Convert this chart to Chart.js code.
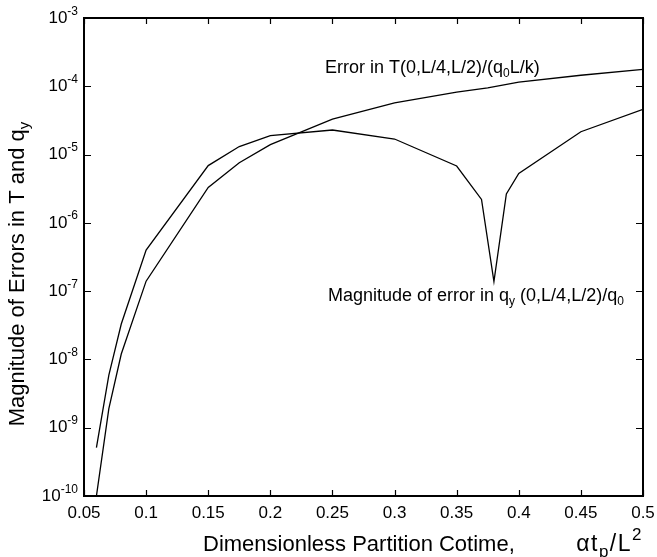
<!DOCTYPE html>
<html>
<head>
<meta charset="utf-8">
<script src="https://cdn.jsdelivr.net/npm/chart.js@4/dist/chart.umd.min.js"></script>
<style>
  html, body { margin: 0; padding: 0; background: #fff; }
  #wrap { position: relative; width: 657px; height: 557px; }
</style>
</head>
<body>
<div id="wrap"><canvas id="c"></canvas></div>
<script>
// valores
const X_TICKS = [0.05, 0.1, 0.15, 0.2, 0.25, 0.3, 0.35, 0.4, 0.45, 0.5];
const X_TICK_LABELS = ['0.05', '0.1', '0.15', '0.2', '0.25', '0.3', '0.35', '0.4', '0.45', '0.5'];
const Y_EXPONENTS = [-10, -9, -8, -7, -6, -5, -4, -3];

const tX = [0.06, 0.07, 0.08, 0.1, 0.15, 0.175, 0.2, 0.25, 0.3, 0.35, 0.375, 0.4, 0.45, 0.5];
const tErr = [1e-10, 1.9e-9, 1.2e-8, 1.4e-7, 3.3e-6, 7.6e-6, 1.4e-5, 3.3e-5, 5.7e-5, 8.2e-5, 9.5e-5, 1.15e-4, 1.45e-4, 1.77e-4];

const qX = [0.06, 0.07, 0.08, 0.1, 0.15, 0.175, 0.2, 0.25, 0.3, 0.35, 0.37, 0.38, 0.39, 0.4, 0.45, 0.5];
const qErr = [5.1e-10, 5.9e-9, 3.3e-8, 4.0e-7, 6.9e-6, 1.31e-5, 1.89e-5, 2.29e-5, 1.69e-5, 6.8e-6, 2.2e-6, 1.38e-7, 2.65e-6, 5.3e-6, 2.16e-5, 4.6e-5];

const FONT = '"Liberation Sans", Arial, Helvetica, sans-serif';
const TICK_SIZE = 17;
const TITLE_SIZE = 22;
const NOTE_SIZE = 18;

// texto con sub/superíndices: [[texto, 'sub'|'sup'|null], ...]
function richWidth(ctx, segs, size, ratio, gap) {
  let w = 0;
  segs.forEach(([t, k]) => {
    ctx.font = `${k ? Math.round(size * ratio) : size}px ${FONT}`;
    w += ctx.measureText(t).width + gap * t.length;
  });
  return w;
}

function drawRich(ctx, segs, x, y, size, align, ratio = 0.68, gap = 0) {
  const w = richWidth(ctx, segs, size, ratio, gap);
  let cx = align === 'right' ? x - w : align === 'center' ? x - w / 2 : x;
  ctx.textBaseline = 'middle';
  ctx.textAlign = 'left';
  segs.forEach(([t, k]) => {
    const s = k ? Math.round(size * ratio) : size;
    ctx.font = `${s}px ${FONT}`;
    let dy = 0;
    if (k === 'sub') dy = size * 0.32;
    if (k === 'sup') dy = -size * 0.4;
    for (const ch of t) {
      ctx.fillText(ch, cx, y + dy);
      cx += ctx.measureText(ch).width + gap;
    }
  });
}

const frameAndLabels = {
  id: 'frameAndLabels',
  afterDraw(chart) {
    const { ctx, chartArea: a, scales } = chart;
    const xs = scales.x, ys = scales.y;
    ctx.save();
    ctx.fillStyle = '#000';
    ctx.strokeStyle = '#000';

    // ticks hacia dentro, en los cuatro lados
    ctx.lineWidth = 1.2;
    ctx.beginPath();
    X_TICKS.forEach(v => {
      const px = Math.round(xs.getPixelForValue(v)) + 0.5;
      ctx.moveTo(px, a.bottom); ctx.lineTo(px, a.bottom - 6);
      ctx.moveTo(px, a.top); ctx.lineTo(px, a.top + 6);
    });
    Y_EXPONENTS.forEach(e => {
      const py = Math.round(ys.getPixelForValue(Math.pow(10, e))) + 0.5;
      ctx.moveTo(a.left, py); ctx.lineTo(a.left + 7, py);
      ctx.moveTo(a.right, py); ctx.lineTo(a.right - 7, py);
    });
    ctx.stroke();

    // marco
    ctx.lineWidth = 2;
    ctx.strokeRect(a.left, a.top, a.right - a.left, a.bottom - a.top);

    // etiquetas del eje x
    ctx.font = `${TICK_SIZE}px ${FONT}`;
    ctx.textAlign = 'center';
    ctx.textBaseline = 'middle';
    X_TICKS.forEach((v, i) => {
      ctx.fillText(X_TICK_LABELS[i], xs.getPixelForValue(v), a.bottom + 17);
    });

    // etiquetas del eje y (10^n)
    Y_EXPONENTS.forEach(e => {
      const py = ys.getPixelForValue(Math.pow(10, e));
      drawRich(ctx, [['10', null], [String(e), 'sup']], a.left - 6, py, TICK_SIZE, 'right');
    });

    // títulos de ejes
    drawRich(ctx, [['Dimensionless Partition Cotime,', null]], 203, 545, TITLE_SIZE, 'left');
    drawRich(ctx, [['\u03b1t', null], ['p', 'sub'], ['/L', null], ['2', 'sup']], 643, 545, 23, 'right', 0.75, 1.5);
    ctx.save();
    ctx.translate(18, 274);
    ctx.rotate(-Math.PI / 2);
    drawRich(ctx, [['Magnitude of Errors in T and q', null], ['y', 'sub']], 0, 0, 22, 'center');
    ctx.restore();

    // anotaciones de las curvas
    drawRich(ctx, [['Error in T(0,L/4,L/2)/(q', null], ['0', 'sub'], ['L/k)', null]], 325, 68, NOTE_SIZE, 'left');
    drawRich(ctx, [['Magnitude of error in q', null], ['y', 'sub'], [' (0,L/4,L/2)/q', null], ['0', 'sub']], 328, 296, NOTE_SIZE, 'left');

    ctx.restore();
  }
};

const toPts = (xs, ys) => xs.map((x, i) => ({ x, y: ys[i] }));

new Chart(document.getElementById('c'), {
  type: 'scatter',
  data: {
    datasets: [
      { label: 'T', data: toPts(tX, tErr), showLine: true, borderColor: '#000', borderWidth: 1.3, pointRadius: 0, tension: 0 },
      { label: 'qy', data: toPts(qX, qErr), showLine: true, borderColor: '#000', borderWidth: 1.3, pointRadius: 0, tension: 0 },
    ],
  },
  options: {
    responsive: true,
    maintainAspectRatio: false,
    animation: false,
    layout: { padding: { left: 0, top: 18, right: 14, bottom: 0 } },
    plugins: { legend: { display: false }, tooltip: { enabled: false } },
    scales: {
      x: {
        type: 'linear', min: 0.05, max: 0.5,
        grid: { display: false }, border: { display: false },
        ticks: { display: false },
        afterFit: s => { s.height = 61; },
      },
      y: {
        type: 'logarithmic', min: 1e-10, max: 1e-3,
        grid: { display: false }, border: { display: false },
        ticks: { display: false },
        afterFit: s => { s.width = 84; },
      },
    },
  },
  plugins: [frameAndLabels],
});
</script>
</body>
</html>
